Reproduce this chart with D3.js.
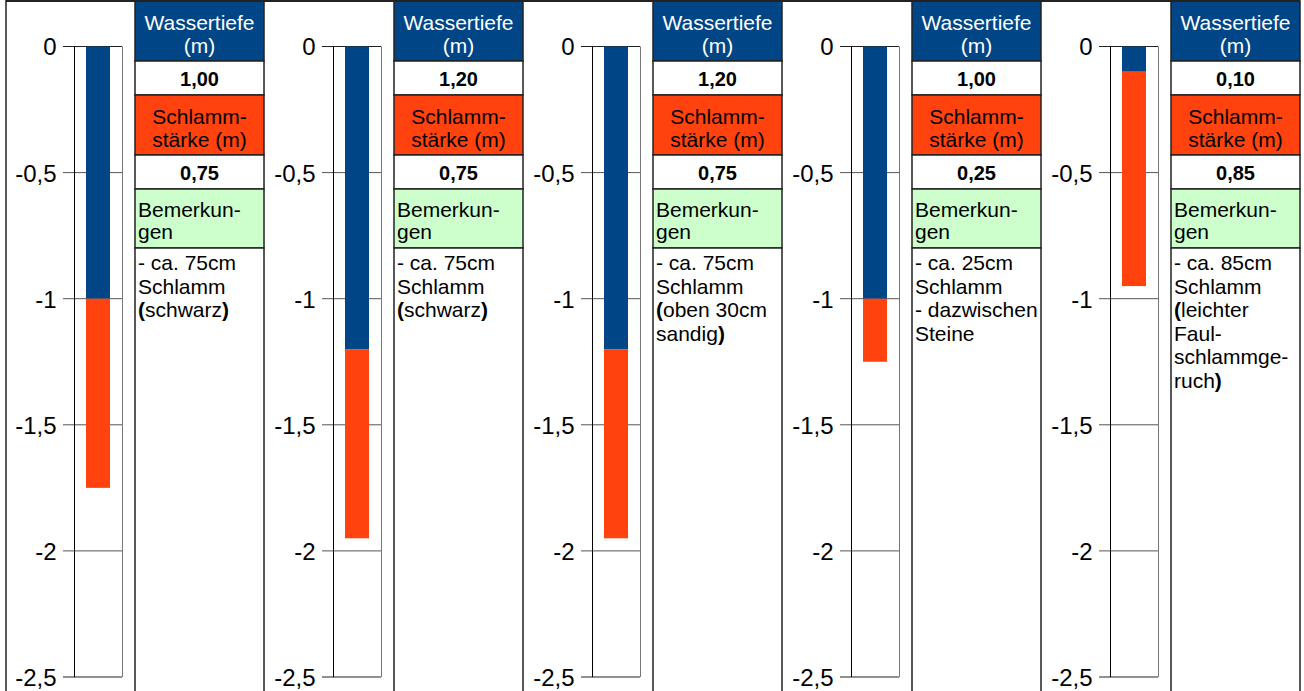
<!DOCTYPE html>
<html><head><meta charset="utf-8">
<script src="https://cdn.jsdelivr.net/npm/d3@7"></script>
<style>
html,body{margin:0;padding:0;background:#fff;}
svg{display:block;font-family:"Liberation Sans",Arial,sans-serif;}
</style></head>
<body><svg id="c" width="1304" height="691"></svg>
<script>
const panels = ["P1","P2","P3","P4","P5"];
const waterDepth = [1.00, 1.20, 1.20, 1.00, 0.10];
const mudThickness = [0.75, 0.75, 0.75, 0.25, 0.85];
const waterLabels = ["1,00","1,20","1,20","1,00","0,10"];
const mudLabels = ["0,75","0,75","0,75","0,25","0,85"];
const remarks = [
  ["- ca. 75cm","Schlamm","(schwarz)"],
  ["- ca. 75cm","Schlamm","(schwarz)"],
  ["- ca. 75cm","Schlamm","(oben 30cm","sandig)"],
  ["- ca. 25cm","Schlamm","- dazwischen","Steine"],
  ["- ca. 85cm","Schlamm","(leichter","Faul-","schlammge-","ruch)"]
];
const tickValues = [0,-0.5,-1,-1.5,-2,-2.5];
const headerWater = ["Wassertiefe","(m)"];
const headerMud = ["Schlamm-","stärke (m)"];
const headerRemarks = ["Bemerkun-","gen"];

const BLUE="#004586", ORANGE="#ff420e", GREEN="#ccffcc";
const svg = d3.select("#c");
const fs = 21;

const px = d3.scaleBand().domain(d3.range(panels.length)).range([6, 6+5*259]);
const y = d3.scaleLinear().domain([0,-2.5]).range([46.5,677]);
const loc = d3.formatLocale({decimal:",",thousands:".",grouping:[3],currency:["","€"],minus:"-"});
const fmt = loc.format("~g");

panels.forEach((p,i)=>{
  const ox = px(i);
  const g = svg.append("g").attr("transform",`translate(${ox},0)`);
  const pl = 68, pr = 116;
  const bx = d3.scaleBand().domain([p]).range([pl,pr]).paddingInner(0.5).paddingOuter(0.25);

  // gridlines
  g.selectAll("line.grid").data(tickValues).enter().append("line")
    .attr("x1",pl-11).attr("x2",pr).attr("y1",d=>y(d)).attr("y2",d=>y(d))
    .attr("stroke",d=>(d===0||d===-2.5)?"#222":"#555").attr("stroke-width",1);
  // right edge
  g.append("line").attr("x1",pr+0.5).attr("x2",pr+0.5).attr("y1",y(0)).attr("y2",y(-2.5))
    .attr("stroke","#777");
  // bars
  const w = waterDepth[i], m = mudThickness[i];
  g.append("rect").attr("x",bx(p)).attr("width",bx.bandwidth())
    .attr("y",y(0)).attr("height",y(-w)-y(0)).attr("fill",BLUE);
  g.append("rect").attr("x",bx(p)).attr("width",bx.bandwidth())
    .attr("y",y(-w)).attr("height",y(-(w+m))-y(-w)).attr("fill",ORANGE);
  // axis
  const ax = g.append("g").attr("transform",`translate(${pl+0.5},0)`)
    .call(d3.axisLeft(y).tickValues(tickValues).tickFormat(fmt).tickSize(0).tickPadding(18));
  ax.select(".domain").attr("stroke","#000").attr("d",`M0,${y(0)}V${y(-2.5)}`);
  ax.selectAll("text").attr("font-size",24).attr("font-family","'Liberation Sans',Arial,sans-serif").attr("fill","#000").attr("dy","0.35em");

  // table
  const tx = 129, tw = 129;
  const rows = [
    {y0:1,y1:61,fill:BLUE},
    {y0:61,y1:95,fill:"#fff"},
    {y0:95,y1:155,fill:ORANGE},
    {y0:155,y1:189,fill:"#fff"},
    {y0:189,y1:248,fill:GREEN},
    {y0:248,y1:700,fill:"#fff"}
  ];
  g.selectAll("rect.cell").data(rows).enter().append("rect")
    .attr("x",tx).attr("y",d=>d.y0).attr("width",tw).attr("height",d=>d.y1-d.y0)
    .attr("fill",d=>d.fill).attr("stroke","#222").attr("stroke-width",1.5);

  const cx = tx+tw/2;
  const t1 = g.append("text").attr("text-anchor","middle").attr("font-size",fs).attr("fill","#fff");
  headerWater.forEach((s,k)=>t1.append("tspan").attr("x",cx).attr("y",30+k*23).text(s));
  g.append("text").attr("x",cx).attr("y",86).attr("text-anchor","middle").attr("font-size",fs-1)
    .attr("font-weight","bold").text(waterLabels[i]);
  const t2 = g.append("text").attr("text-anchor","middle").attr("font-size",fs).attr("fill","#000");
  headerMud.forEach((s,k)=>t2.append("tspan").attr("x",cx).attr("y",124+k*23).text(s));
  g.append("text").attr("x",cx).attr("y",180).attr("text-anchor","middle").attr("font-size",fs-1)
    .attr("font-weight","bold").text(mudLabels[i]);
  const t3 = g.append("text").attr("font-size",fs).attr("fill","#000");
  headerRemarks.forEach((s,k)=>t3.append("tspan").attr("x",tx+3).attr("y",217+k*22).text(s));
  const t4 = g.append("text").attr("font-size",fs).attr("fill","#000");
  remarks[i].forEach((s,k)=>{
    const line = t4.append("tspan").attr("x",tx+3).attr("y",270+k*23.6);
    // parentheses rendered bold as in the reference
    const parts = s.split(/([()])/).filter(d=>d.length);
    parts.forEach((pt,j)=>{
      const sp = j===0 ? line : t4.append("tspan");
      sp.text(pt);
      if(pt==="("||pt===")") sp.attr("font-weight","bold");
    });
  });
});
// outer frame lines
svg.append("line").attr("x1",6).attr("x2",1300).attr("y1",1).attr("y2",1).attr("stroke","#222").attr("stroke-width",2);
svg.append("line").attr("x1",6).attr("x2",6).attr("y1",0).attr("y2",691).attr("stroke","#222").attr("stroke-width",1.5);
</script></body></html>
